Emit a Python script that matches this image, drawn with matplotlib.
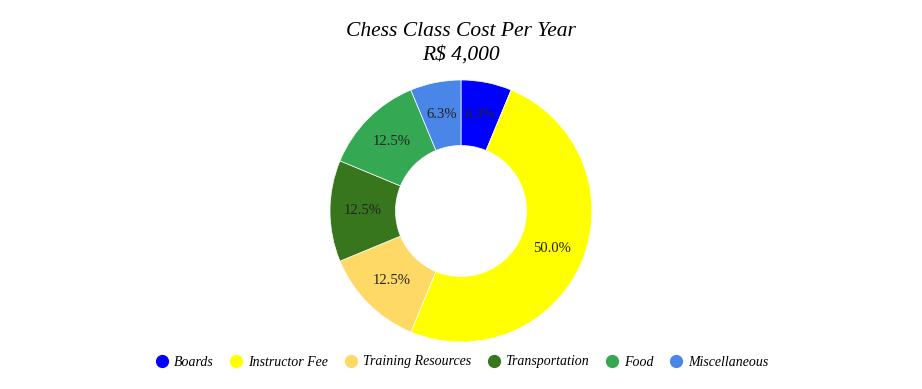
import matplotlib
matplotlib.use("Agg")
import matplotlib.pyplot as plt
from matplotlib.lines import Line2D
from decimal import Decimal, ROUND_HALF_UP

categories = ["Boards", "Instructor Fee", "Training Resources", "Transportation", "Food", "Miscellaneous"]
values = [250, 2000, 500, 500, 500, 250]
colors = ["#0000ff", "#ffff00", "#ffd966", "#38761d", "#34a853", "#4a86e8"]
title_lines = ["Chess Class Cost Per Year", "R$ 4,000"]

serif = ["Liberation Serif", "DejaVu Serif"]


def fmt_pct(p):
    d = Decimal(str(round(p, 6))).quantize(Decimal("0.1"), rounding=ROUND_HALF_UP)
    return f"{d}%"


fig = plt.figure(figsize=(9.22, 3.89), dpi=100)
fig.patch.set_facecolor("white")

ax = fig.add_axes([330 / 922, 47 / 389, 262 / 922, 262 / 389])
wedges, texts, autotexts = ax.pie(
    values,
    colors=colors,
    startangle=90,
    counterclock=False,
    radius=1.0,
    wedgeprops=dict(width=0.5, edgecolor="white", linewidth=0.5),
    autopct=fmt_pct,
    pctdistance=0.75,
    textprops=dict(fontsize=10.5, color="#222222", family=serif),
)
ax.set_xlim(-1, 1)
ax.set_ylim(-1, 1)
ax.set_aspect("equal")
ax.axis("off")

fig.text(0.5, 1 - 31 / 389, title_lines[0], ha="center", va="center",
         fontsize=15.5, style="italic", family=serif, color="#000000")
fig.text(0.5, 1 - 55 / 389, title_lines[1], ha="center", va="center",
         fontsize=15.5, style="italic", family=serif, color="#000000")

handles = [Line2D([0], [0], marker="o", linestyle="none", markersize=8.5,
                  markerfacecolor=c, markeredgecolor=c) for c in colors]
leg = fig.legend(handles, categories, loc="center", bbox_to_anchor=(0.5, 1 - 362 / 389),
                 ncol=6, frameon=False, handletextpad=0.25, columnspacing=1.05,
                 handlelength=1.2, prop=dict(family=serif, style="italic", size=10))

fig.savefig("out.png", dpi=100)
